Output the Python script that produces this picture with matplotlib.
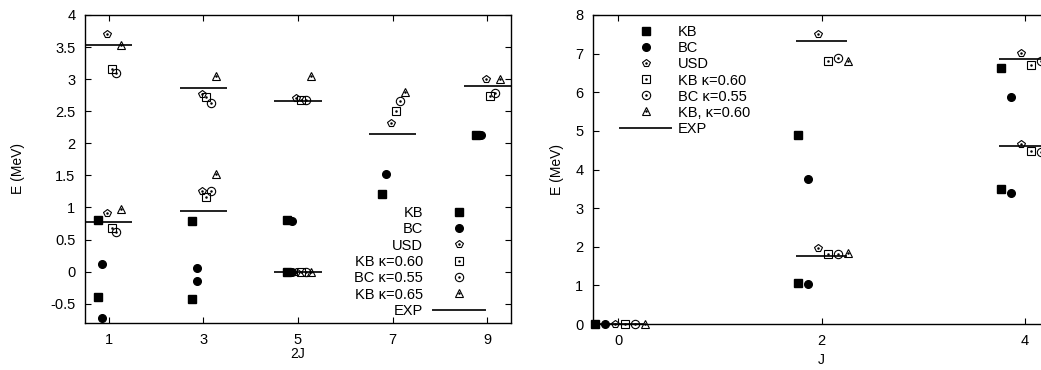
import numpy as np
import matplotlib
matplotlib.use("Agg")
import matplotlib.pyplot as plt
from matplotlib.lines import Line2D
from matplotlib.ticker import FormatStrFormatter

plt.rcParams['font.family'] = ['Liberation Sans', 'DejaVu Sans']
plt.rcParams['font.size'] = 10

# ---- left panel: levels vs 2J ----
L_models = ['KB', 'BC', 'USD', 'KB \u03ba=0.60', 'BC \u03ba=0.55', 'KB \u03ba=0.65']
L_2j   = [1, 1, 3, 3, 5, 5, 7, 9]
L_kb   = [0.81, -0.39, 0.79, -0.42, 0.80, 0.00, 1.21, 2.13]
L_bc   = [0.12, -0.72, 0.06, -0.14, 0.79, 0.00, 1.52, 2.13]
L_usd  = [0.92, 3.70, 1.26, 2.77, 0.00, 2.70, 2.32, 3.00]
L_kb60 = [0.68, 3.16, 1.17, 2.72, 0.00, 2.68, 2.50, 2.74]
L_bc55 = [0.62, 3.10, 1.26, 2.63, 0.00, 2.67, 2.66, 2.79]
L_kb65 = [0.98, 3.53, 1.52, 3.05, 0.00, 3.05, 2.80, 3.00]
L_exp  = [0.78, 3.54, 0.95, 2.86, 0.00, 2.66, 2.15, 2.90]

# ---- right panel: levels vs J ----
R_j    = [0, 2, 2, 4, 4]
R_kb   = [0.0, 1.06, 4.90, 3.50, 6.63]
R_bc   = [0.0, 1.04, 3.76, 3.39, 5.88]
R_usd  = [0.0, 1.97, 7.51, 4.66, 7.02]
R_kb60 = [0.0, 1.81, 6.81, 4.48, 6.71]
R_bc55 = [0.0, 1.81, 6.89, 4.45, 6.80]
R_kb60b = [0.0, 1.84, 6.81, 4.50, 6.85]
R_exp  = [0.0, 1.77, 7.33, 4.61, 6.86]
R_labels = ['KB', 'BC', 'USD', 'KB \u03ba=0.60', 'BC \u03ba=0.55', 'KB, \u03ba=0.60']

offsets = [-0.235, -0.135, -0.035, 0.065, 0.165, 0.265]
# (marker, filled, size)
styles = [('s', True, 5.5), ('o', True, 5.5), ('p', False, 6.0),
          ('s', False, 6.0), ('o', False, 6.0), ('^', False, 6.0)]

fig = plt.figure(figsize=(10.41, 3.70), dpi=100)
W, H = 1041.0, 370.0
axL = fig.add_axes([85 / W, 1 - 323 / H, 426 / W, 308 / H])
axR = fig.add_axes([593 / W, 1 - 324 / H, 457 / W, 309 / H])


def draw(ax, xs, series, exp_e, halfw):
    handles = []
    for (mk, filled, ms), off, ys in zip(styles, offsets, series):
        x = np.asarray(xs, float) + off
        if filled:
            h, = ax.plot(x, ys, ls='none', marker=mk, ms=ms, color='black',
                         clip_on=False, zorder=3)
            handles.append(h)
        else:
            h1, = ax.plot(x, ys, ls='none', marker=mk, ms=ms, mfc='none',
                          mec='black', mew=0.8, clip_on=False, zorder=3)
            h2, = ax.plot(x, ys, ls='none', marker='.', ms=1.6, color='black',
                          clip_on=False, zorder=3)
            handles.append((h1, h2))
    ex = np.asarray(xs, float)
    ax.hlines(exp_e, ex - halfw, ex + halfw, color='#222222', lw=1.4, zorder=2)
    handles.append(Line2D([], [], color='#222222', lw=1.4))
    return handles


hL = draw(axL, L_2j, [L_kb, L_bc, L_usd, L_kb60, L_bc55, L_kb65], L_exp, 0.5)
hR = draw(axR, R_j, [R_kb, R_bc, R_usd, R_kb60, R_bc55, R_kb60b], R_exp, 0.25)

for ax in (axL, axR):
    ax.tick_params(direction='in', top=True, right=True, length=4, width=0.8,
                   labelsize=10.5, pad=7)
    for s in ax.spines.values():
        s.set_linewidth(1.0)
    ax.set_ylabel('E (MeV)', fontsize=10)

axL.set_xlim(0.5, 9.5)
axL.set_ylim(-0.8, 4.0)
axL.set_xticks([1, 3, 5, 7, 9])
axL.set_yticks(np.arange(-0.5, 4.01, 0.5))
axL.yaxis.set_major_formatter(FormatStrFormatter('%g'))
axL.set_xlabel('2J', fontsize=10)
axL.yaxis.set_label_coords(-0.141, 0.5)
axL.xaxis.set_label_coords(0.5, -0.078)

axR.set_xlim(-0.25, 4.25)
axR.set_ylim(0, 8)
axR.set_xticks([0, 2, 4])
axR.set_yticks(range(0, 9))
axR.set_xlabel('J', fontsize=10)
axR.yaxis.set_label_coords(-0.063, 0.5)
axR.xaxis.set_label_coords(0.5, -0.095)

legL = axL.legend(hL, L_models + ['EXP'], loc='lower right', bbox_to_anchor=(0.955, -0.007),
                  markerfirst=False, frameon=False, borderpad=0, labelspacing=0.16,
                  handlelength=3.5, handletextpad=0.7, numpoints=1, fontsize=10.5)
legR = axR.legend(hR, R_labels + ['EXP'], loc='upper left', bbox_to_anchor=(0.044, 0.99),
                  frameon=False, borderpad=0, labelspacing=0.14,
                  handlelength=3.5, handletextpad=0.45, numpoints=1, fontsize=10.5)

fig.savefig('out.png', dpi=100)
